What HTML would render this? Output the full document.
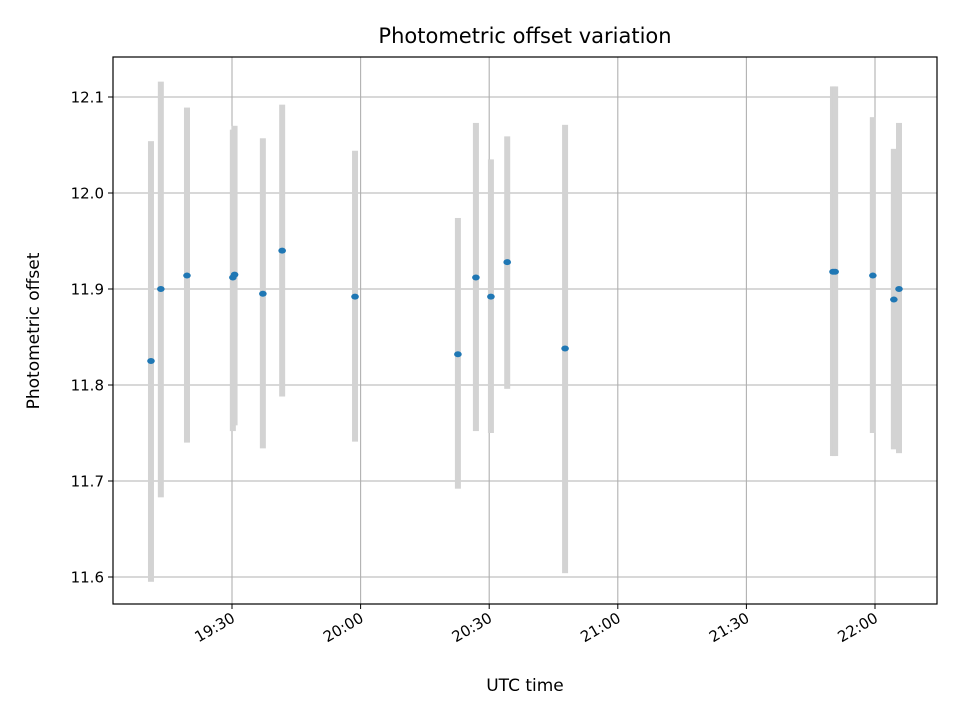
<!DOCTYPE html>
<html><head><meta charset="utf-8"><style>
body{margin:0;background:#fff;font-family:"Liberation Sans","DejaVu Sans",sans-serif}
svg text{font-family:"DejaVu Sans","Liberation Sans",sans-serif;fill:#000}
</style></head><body>
<svg id="chart" width="960" height="720" xmlns="http://www.w3.org/2000/svg">
<rect width="960" height="720" fill="#fff"/>
<g id="grid"></g><g id="bars"></g><g id="pts"></g><g id="ticks"></g>
<rect x="113" y="57" width="824" height="547" fill="none" stroke="#000" stroke-width="1.2"/>
<text x="525" y="43" font-size="21" text-anchor="middle">Photometric offset variation</text>
<text x="525" y="691" font-size="17" text-anchor="middle">UTC time</text>
<text transform="translate(39,331) rotate(-90)" font-size="17" text-anchor="middle">Photometric offset</text>
</svg>
<script>
// times in minutes after 19:00 UTC
const times=[11.1,13.4,19.5,30.2,30.6,37.2,41.7,58.7,82.7,86.9,90.4,94.2,107.7,170.2,170.7,179.5,184.4,185.6];
const values=[11.825,11.900,11.914,11.912,11.915,11.895,11.940,11.892,11.832,11.912,11.892,11.928,11.838,11.918,11.918,11.914,11.889,11.900];
const lows=[11.595,11.683,11.740,11.752,11.758,11.734,11.788,11.741,11.692,11.752,11.750,11.796,11.604,11.726,11.726,11.750,11.733,11.729];
const highs=[12.054,12.116,12.089,12.066,12.070,12.057,12.092,12.044,11.974,12.073,12.035,12.059,12.071,12.111,12.111,12.079,12.046,12.073];
const yTicks=[11.6,11.7,11.8,11.9,12.0,12.1];
const xTickMins=[30,60,90,120,150,180];
const xTickLabels=["19:30","20:00","20:30","21:00","21:30","22:00"];
const NS="http://www.w3.org/2000/svg";
function X(m){return 232+(m-30)*128.6/30;}
function Y(v){return 577-(v-11.6)*960;}
function mk(p,t,a){const e=document.createElementNS(NS,t);for(const k in a)e.setAttribute(k,a[k]);document.getElementById(p).appendChild(e);return e;}
yTicks.forEach((v,i)=>{
 const g=mk('grid','line',{x1:113,x2:937,y1:Y(v),y2:Y(v),stroke:'#b0b0b0','stroke-width':1.1});
 
 
 mk('ticks','line',{x1:108,x2:113,y1:Y(v),y2:Y(v),stroke:'#000'});
 const t=mk('ticks','text',{x:104,y:Y(v)+5.5,'font-size':15,'text-anchor':'end'});
 t.textContent=v.toFixed(1);
 
 
});
xTickMins.forEach((m,i)=>{
 const g=mk('grid','line',{x1:X(m),x2:X(m),y1:57,y2:604,stroke:'#b0b0b0','stroke-width':1.1});
 
 
 mk('ticks','line',{x1:X(m),x2:X(m),y1:604,y2:609,stroke:'#000'});
 const t=mk('ticks','text',{x:X(m)+4,y:621,'font-size':15,'text-anchor':'end',transform:`rotate(-30 ${X(m)+4} 621)`});
 t.textContent=xTickLabels[i];
 
 
});
times.forEach((m,i)=>{
 const b=mk('bars','rect',{x:X(m)-3,y:Y(highs[i]),width:6,height:Y(lows[i])-Y(highs[i]),fill:'#d3d3d3'});
 
 
 const p=mk('pts','ellipse',{cx:X(m),cy:Y(values[i]),rx:3.8,ry:3,fill:'#1f77b4'});
 
 
});
</script>
</body></html>
